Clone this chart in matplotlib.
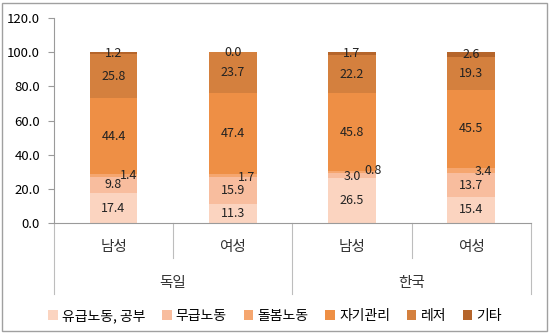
import matplotlib
matplotlib.use("Agg")
import matplotlib.pyplot as plt
from matplotlib.patches import Rectangle
import numpy as np

plt.rcParams['font.family'] = ['Noto Sans CJK KR', 'DejaVu Sans']

# ---- data ----
countries = ['독일', '한국']
genders = ['남성', '여성', '남성', '여성']
series = ['유급노동, 공부', '무급노동', '돌봄노동', '자기관리', '레저', '기타']
paid = [17.4, 11.3, 26.5, 15.4]
unpaid = [9.8, 15.9, 3.0, 13.7]
care = [1.4, 1.7, 0.8, 3.4]
selfcare = [44.4, 47.4, 45.8, 45.5]
leisure = [25.8, 23.7, 22.2, 19.3]
other = [1.2, 0.0, 1.7, 2.6]
yticks = [0, 20, 40, 60, 80, 100, 120]

colors = ['#FBD4C0', '#F8BD9E', '#F5A66F', '#EE8F45', '#D4803E', '#B5652B']
values = [paid, unpaid, care, selfcare, leisure, other]

# label nudges (points) for thin segments
nudge = {(2, 0): (11, 0), (2, 1): (10, -2), (2, 2): (15, 1), (2, 3): (9, -1),
         (1, 2): (0, -1)}

fig = plt.figure(figsize=(5.5, 3.33), dpi=100)
ax = fig.add_axes([0.098, 0.330, 0.867, 0.616])

x = np.arange(len(genders))
bottom = np.zeros(len(genders))
for i, (vals, col) in enumerate(zip(values, colors)):
    vals = np.array(vals)
    ax.bar(x, vals, 0.40, bottom=bottom, color=col, label=series[i], zorder=2)
    for j, v in enumerate(vals):
        dx, dy = nudge.get((i, j), (0, 0))
        ax.annotate('%.1f' % v, (x[j], bottom[j] + v / 2), xytext=(dx, dy),
                    textcoords='offset points', ha='center', va='center',
                    fontsize=9, color='#222222', zorder=3)
    bottom += vals

ax.set_xlim(-0.5, len(genders) - 0.5)
ax.set_ylim(0, 120)
ax.set_yticks(yticks)
ax.set_yticklabels(['%.1f' % t for t in yticks], fontsize=9.5)
ax.tick_params(axis='y', length=4, color='#9a9a9a', pad=6)
ax.set_xticks([])
for s in ['top', 'right']:
    ax.spines[s].set_visible(False)
for s in ['left', 'bottom']:
    ax.spines[s].set_color('#9a9a9a')
    ax.spines[s].set_linewidth(0.8)

# two-level category axis
tr = ax.get_xaxis_transform()
for k in range(len(genders) + 1):
    xpos = k - 0.5
    y_end = -0.346 if k % 2 == 0 else -0.171
    ax.plot([xpos, xpos], [0, y_end], transform=tr, color='#bdbdbd',
            lw=0.8, clip_on=False)
for j, g in enumerate(genders):
    ax.text(x[j], -0.117, g, transform=tr, ha='center', va='center',
            fontsize=10.5, color='#333333')
for c, name in enumerate(countries):
    ax.text(2 * c + 0.5, -0.293, name, transform=tr, ha='center',
            va='center', fontsize=10.5, color='#333333')

fig.legend(loc='center', bbox_to_anchor=(0.5, 0.051), ncol=6, frameon=False,
           fontsize=10, handlelength=0.7, handleheight=0.7, handletextpad=0.3,
           columnspacing=1.2)

fig.patches.append(Rectangle((0.004, 0.006), 0.99, 0.986, transform=fig.transFigure,
                             fill=False, edgecolor='#a0a0a0', lw=1))

fig.savefig('out.png', dpi=100)
